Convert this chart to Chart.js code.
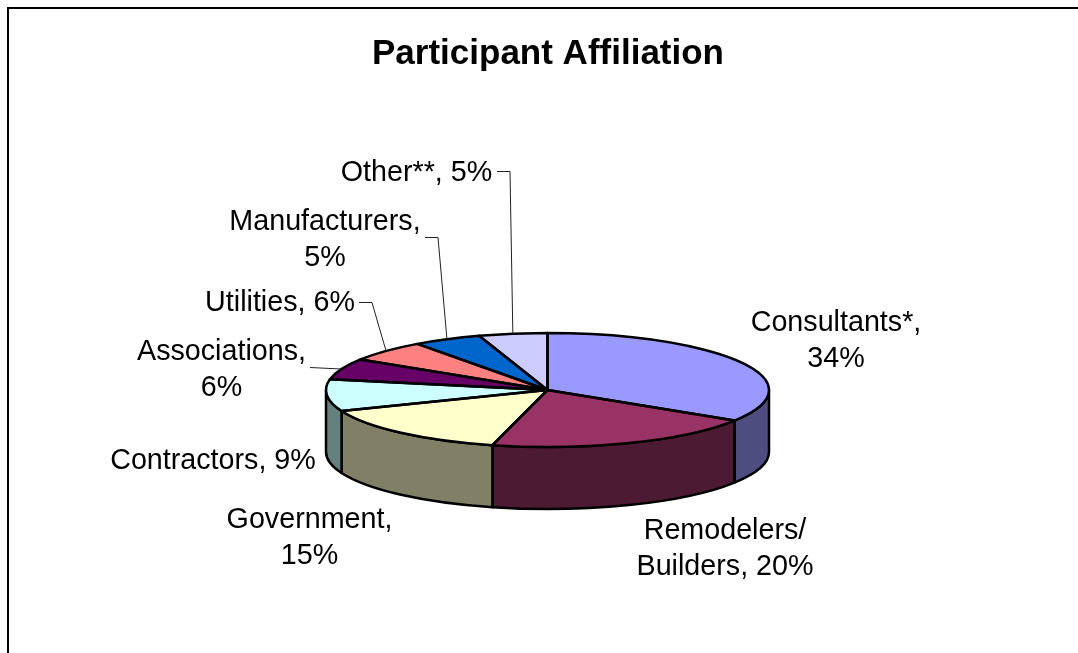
<!DOCTYPE html>
<html>
<head>
<meta charset="utf-8">
<title>Participant Affiliation</title>
<script src="https://cdn.jsdelivr.net/npm/chart.js@4/dist/chart.umd.min.js"></script>
<style>
  html, body { margin: 0; padding: 0; background: #fff; overflow: hidden; }
  #wrap { position: relative; width: 1078px; height: 653px; overflow: hidden; }
  #frame { position: absolute; left: 7px; top: 7px; width: 1200px; height: 800px; border: 2px solid #000; border-right: 0; border-bottom: 0; }
  canvas { position: absolute; left: 0; top: 0; }
</style>
</head>
<body>
<div id="wrap">
  <div id="frame"></div>
  <canvas id="pie" width="1078" height="653"></canvas>
</div>
<script>
const categories = ['Consultants*', 'Remodelers/Builders', 'Government', 'Contractors', 'Associations', 'Utilities', 'Manufacturers', 'Other**'];
const values = [34, 20, 15, 9, 6, 6, 5, 5];
const topColors = ['#9999ff', '#993366', '#ffffcc', '#ccffff', '#660066', '#ff8080', '#0066cc', '#ccccff'];
const wallColors = ['#4d4d80', '#4d1a33', '#808066', '#668080', '#330033', '#804040', '#003366', '#666680'];

const labelLines = [
  ['Consultants*,', '34%'],
  ['Remodelers/', 'Builders, 20%'],
  ['Government,', '15%'],
  ['Contractors, 9%'],
  ['Associations,', '6%'],
  ['Utilities, 6%'],
  ['Manufacturers,', '5%'],
  ['Other**, 5%']
];

// label centres, first line, in page pixels
const labelSpots = [
  [836, 323], [725, 531], [309.5, 520], [213, 461],
  [221.5, 352], [280, 303], [325, 222], [416.5, 173]
];
const lineGap = 35.7;

// leaders start next to the text, null = no leader
const leaders = [
  null, null, null, null,
  [[310, 367]],
  [[359, 302], [372, 302]],
  [[425, 237], [438, 237]],
  [[497, 171], [510, 171]]
];

const PIE = { cx: 547.5, cy: 390, rx: 221.5, ry: 57, depth: 62 };

// squashes the round Chart.js pie into a tilted disc and adds the side wall
const tiltPlugin = {
  id: 'tilt',
  beforeDatasetsDraw(chart) {
    const ctx = chart.ctx;
    const arcs = chart.getDatasetMeta(0).data;

    // side wall, only the front half can be seen
    ctx.save();
    ctx.lineWidth = 2.5;
    ctx.strokeStyle = '#000';
    ctx.lineJoin = 'round';
    arcs.forEach((arc, i) => {
      const a0 = Math.max(arc.startAngle, 0);
      const a1 = Math.min(arc.endAngle, Math.PI);
      if (a1 <= a0) return;
      ctx.beginPath();
      ctx.ellipse(PIE.cx, PIE.cy, PIE.rx, PIE.ry, 0, a0, a1);
      ctx.ellipse(PIE.cx, PIE.cy + PIE.depth, PIE.rx, PIE.ry, 0, a1, a0, true);
      ctx.closePath();
      ctx.fillStyle = wallColors[i];
      ctx.fill();
      ctx.stroke();
    });
    ctx.restore();

    ctx.save();
    ctx.translate(PIE.cx, PIE.cy);
    ctx.scale(PIE.rx / arcs[0].outerRadius, PIE.ry / arcs[0].outerRadius);
    ctx.translate(-arcs[0].x, -arcs[0].y);
  },
  afterDatasetsDraw(chart) {
    const ctx = chart.ctx;
    ctx.restore();

    const arcs = chart.getDatasetMeta(0).data;
    ctx.save();
    ctx.lineWidth = 2.5;
    ctx.strokeStyle = '#000';
    ctx.lineJoin = 'round';
    arcs.forEach(arc => {
      ctx.beginPath();
      ctx.moveTo(PIE.cx, PIE.cy);
      ctx.ellipse(PIE.cx, PIE.cy, PIE.rx, PIE.ry, 0, arc.startAngle, arc.endAngle);
      ctx.closePath();
      ctx.stroke();
    });

    // leaders end on the rim at the middle of their slice
    ctx.lineWidth = 1;
    ctx.strokeStyle = '#222';
    arcs.forEach((arc, i) => {
      if (!leaders[i]) return;
      const mid = (arc.startAngle + arc.endAngle) / 2;
      ctx.beginPath();
      leaders[i].forEach((p, j) => {
        if (j === 0) ctx.moveTo(p[0], p[1] + 0.5);
        else ctx.lineTo(p[0], p[1] + 0.5);
      });
      ctx.lineTo(PIE.cx + PIE.rx * Math.cos(mid), PIE.cy + PIE.ry * Math.sin(mid));
      ctx.stroke();
    });

    ctx.fillStyle = '#000';
    ctx.font = '28.7px "Liberation Sans", Arial, sans-serif';
    ctx.textAlign = 'center';
    ctx.textBaseline = 'middle';
    labelLines.forEach((lines, i) => {
      lines.forEach((txt, j) => {
        ctx.fillText(txt, labelSpots[i][0], labelSpots[i][1] + j * lineGap);
      });
    });
    ctx.restore();
  }
};

new Chart(document.getElementById('pie').getContext('2d'), {
  type: 'pie',
  data: {
    labels: categories,
    datasets: [{
      data: values,
      backgroundColor: topColors,
      borderWidth: 0,
      radius: 221.5,
      clip: false
    }]
  },
  options: {
    responsive: false,
    animation: false,
    layout: { padding: { left: 18, top: 33 } },
    plugins: {
      legend: { display: false },
      tooltip: { enabled: false },
      title: {
        display: true,
        text: 'Participant Affiliation',
        color: '#000',
        font: { family: '"Liberation Sans", Arial, sans-serif', size: 35, weight: 'bold' },
        padding: 0
      }
    }
  },
  plugins: [tiltPlugin]
});
</script>
</body>
</html>
